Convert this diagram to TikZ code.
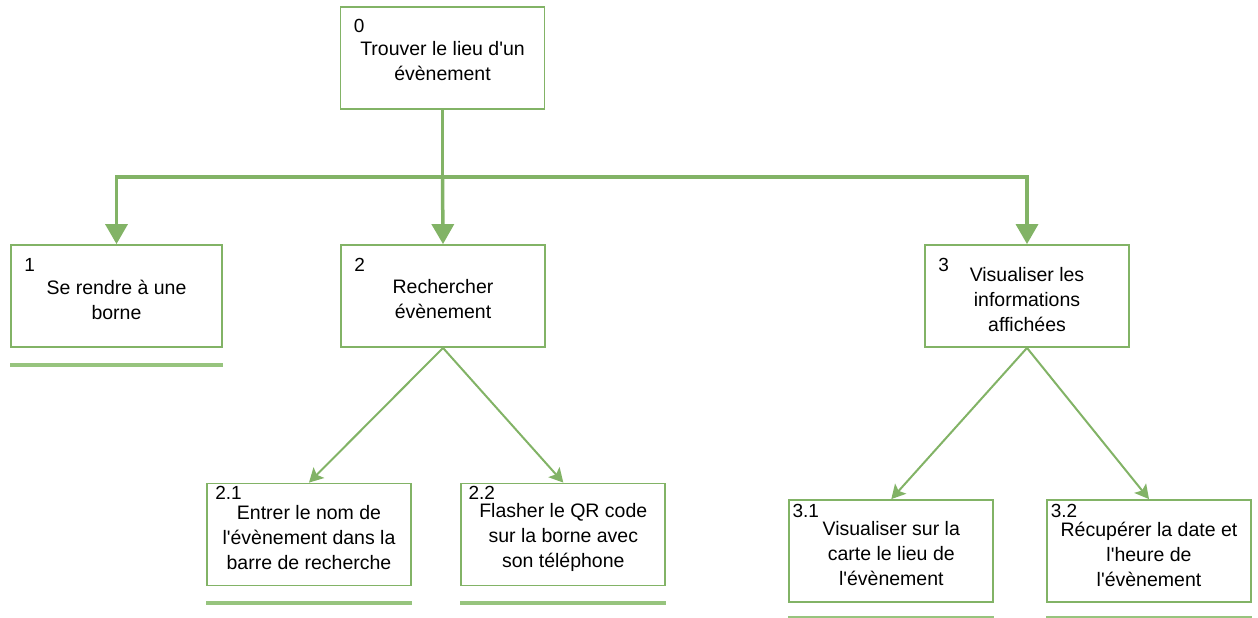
\documentclass[tikz,border=0pt]{standalone}
\usepackage{fontspec}
\setmainfont{Liberation Sans}
\usetikzlibrary{arrows.meta}
\definecolor{leaf}{HTML}{82B366}
\definecolor{leafpale}{HTML}{97C47E}
\newcommand{\ap}{\textquotesingle}

\begin{document}
\begin{tikzpicture}[x=1pt,y=-1pt,
  box/.style={draw=leaf,line width=1.8pt,minimum width=204pt,minimum height=102pt,inner sep=0pt},
  lbl/.style={align=center,font=\fontsize{19.5}{25}\selectfont,inner sep=0pt},
  num/.style={anchor=north west,font=\fontsize{19}{22}\selectfont,inner sep=0pt},
  bigarrow/.style={draw=leaf,line width=3.5pt,-{Triangle[length=20pt,width=22pt]}},
  arrow/.style={draw=leaf,line width=2pt,-{Stealth[length=14pt,width=15pt,inset=3pt]}},
  underline/.style={draw=leafpale,line width=3.5pt}]
\useasboundingbox (0,0) rectangle (1258,618);

% boxes
\node[box] (n0) at (442.5,58) {};
\node[box,minimum width=211pt] (n1) at (116.5,296) {};
\node[box] (n2) at (443,296) {};
\node[box] (n3) at (1027,296) {};
\node[box] (n21) at (309,534.5) {};
\node[box] (n22) at (563.3,534.5) {};
\node[box] (n31) at (891.3,551) {};
\node[box] (n32) at (1149,551) {};

% texts
\node[lbl] (t0) at ([yshift=-3.5pt]n0.center) {Trouver le lieu d\ap un\\évènement};
\node[lbl] (t1) at ([yshift=-3.5pt]n1.center) {Se rendre à une\\borne};
\node[lbl] (t2) at ([yshift=-3.5pt]n2.center) {Rechercher\\évènement};
\node[lbl] (t3) at ([yshift=-3.5pt]n3.center) {Visualiser les\\informations\\affichées};
\node[lbl] (t21) at ([yshift=-3pt]n21.center) {Entrer le nom de\\l\ap évènement dans la\\barre de recherche};
\node[lbl] (t22) at ([yshift=-3pt]n22.center) {Flasher le QR code\\sur la borne avec\\son téléphone};
\node[lbl] (t31) at ([yshift=-3pt]n31.center) {Visualiser sur la\\carte le lieu de\\l\ap évènement};
\node[lbl] (t32) at ([yshift=-3pt]n32.center) {Récupérer la date et\\l\ap heure de\\l\ap évènement};

% numbers
\node[num] (k0) at ([shift={(14,13)}]n0.north west) {0};
\node[num] (k1) at ([shift={(14,14)}]n1.north west) {1};
\node[num] (k2) at ([shift={(14,14)}]n2.north west) {2};
\node[num] (k3) at ([shift={(14,14)}]n3.north west) {3};
\node[num] (k21) at ([shift={(9,3)}]n21.north west) {2.1};
\node[num] (k22) at ([shift={(8,3)}]n22.north west) {2.2};
\node[num] (k31) at ([shift={(4,5)}]n31.north west) {3.1};
\node[num] (k32) at ([shift={(4.5,5)}]n32.north west) {3.2};

% connectors
\coordinate (bus) at (442.5,177);
\draw[bigarrow] (n0.south) -- (bus) -| (n1.north);
\draw[bigarrow] (bus) -| (n3.north);
\draw[bigarrow] (bus) -- (n2.north);
\draw[arrow] (n2.south) -- (n21.north);
\draw[arrow] (n2.south) -- (n22.north);
\draw[arrow] (n3.south) -- (n31.north);
\draw[arrow] (n3.south) -- (n32.north);

% underlines
\foreach \b/\d in {n1/17,n21/16.5,n22/16.5,n31/15,n32/15}
  \draw[underline] ([yshift=-\d pt]\b.south west) -- ([yshift=-\d pt]\b.south east);
\end{tikzpicture}
\end{document}
